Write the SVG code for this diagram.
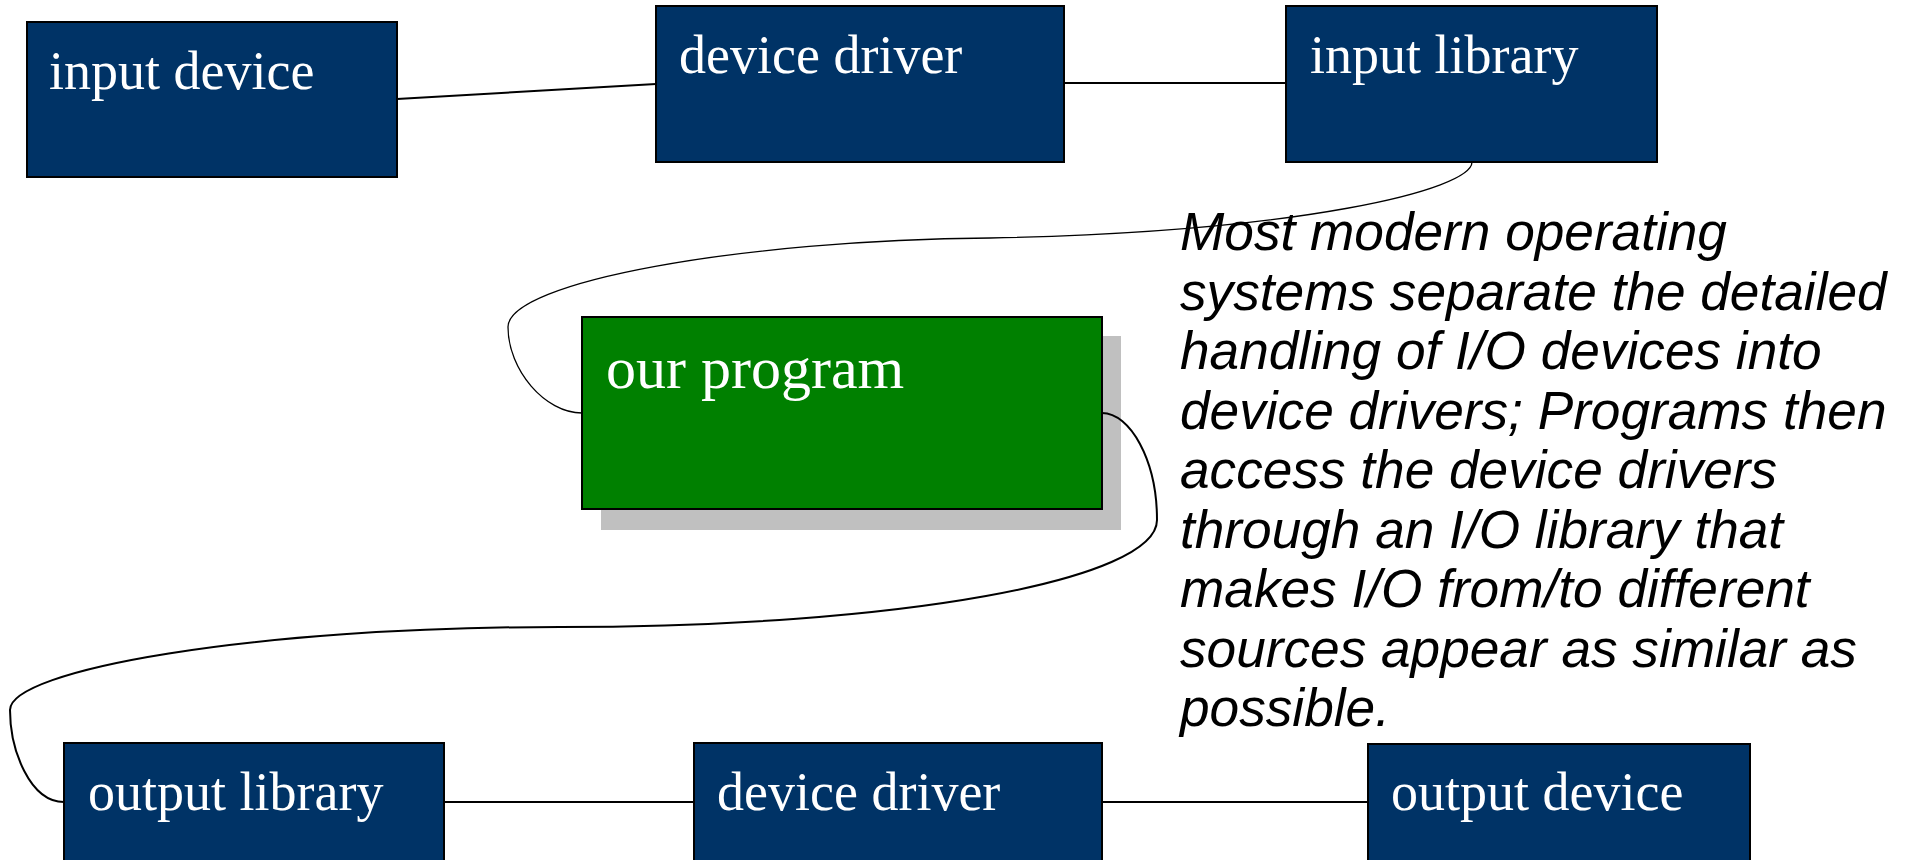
<svg xmlns="http://www.w3.org/2000/svg" width="1906" height="860" viewBox="0 0 1906 860">
  <style>
    .box { fill: #003366; stroke: #000; stroke-width: 2; }
    .prog { fill: #008000; stroke: #000; stroke-width: 2; }
    .shadow { fill: #c0c0c0; stroke: none; }
    .label { font-family: "Liberation Serif", "Times New Roman", serif; font-size: 54px; fill: #fff; }
    .wire { fill: none; stroke: #000; stroke-width: 2; }
    .note { font-family: "Liberation Sans", Arial, sans-serif; font-size: 53.2px; font-style: italic; fill: #000; }
  </style>
  <rect width="1906" height="860" fill="#fff"/>

  <g id="input-device">
    <rect class="box" x="27" y="22" width="370" height="155"/>
    <text class="label" x="49" y="89">input device</text>
  </g>
  <g id="device-driver-in">
    <rect class="box" x="656" y="6" width="408" height="156"/>
    <text class="label" x="679" y="73">device driver</text>
  </g>
  <g id="input-library">
    <rect class="box" x="1286" y="6" width="371" height="156"/>
    <text class="label" x="1310" y="73">input library</text>
  </g>

  <g id="our-program">
    <rect class="shadow" x="601" y="336" width="520" height="194"/>
    <rect class="prog" x="582" y="317" width="520" height="192"/>
    <text class="label" style="font-size:60px" x="606" y="388">our program</text>
  </g>

  <g id="output-library">
    <rect class="box" x="64" y="743" width="380" height="130"/>
    <text class="label" x="88" y="810">output library</text>
  </g>
  <g id="device-driver-out">
    <rect class="box" x="694" y="743" width="408" height="130"/>
    <text class="label" x="717" y="810">device driver</text>
  </g>
  <g id="output-device">
    <rect class="box" x="1368" y="744" width="382" height="130"/>
    <text class="label" x="1391" y="810">output device</text>
  </g>

  <!-- explanatory note -->
  <g id="note">
    <text class="note" x="1180" y="250">Most modern operating</text>
    <text class="note" x="1180" y="309.5">systems separate the detailed</text>
    <text class="note" x="1180" y="369">handling of I/O devices into</text>
    <text class="note" x="1180" y="428.5">device drivers; Programs then</text>
    <text class="note" x="1180" y="488">access the device drivers</text>
    <text class="note" x="1180" y="547.5">through an I/O library that</text>
    <text class="note" x="1180" y="607">makes I/O from/to different</text>
    <text class="note" x="1180" y="666.5">sources appear as similar as</text>
    <text class="note" x="1180" y="726">possible.</text>
  </g>

  <!-- connectors, drawn last so the curve crosses the shadow -->
  <g id="connectors">
    <line class="wire" x1="397" y1="99" x2="656" y2="84"/>
    <line class="wire" x1="1064" y1="83" x2="1286" y2="83"/>
    <path class="wire" style="stroke-width:1.3" d="M1472,162 C1472,190 1300,232 990,238 C740,240 508,282 508,327 C508,370 545,413 582,413"/>
    <path class="wire" d="M1102,413 C1130,413 1157,460 1157,520 C1157,580 900,627 560,627 C250,627 10,670 10,710 C10,750 30,802 64,802"/>
    <line class="wire" x1="444" y1="802" x2="694" y2="802"/>
    <line class="wire" x1="1102" y1="802" x2="1368" y2="802"/>
  </g>
</svg>
